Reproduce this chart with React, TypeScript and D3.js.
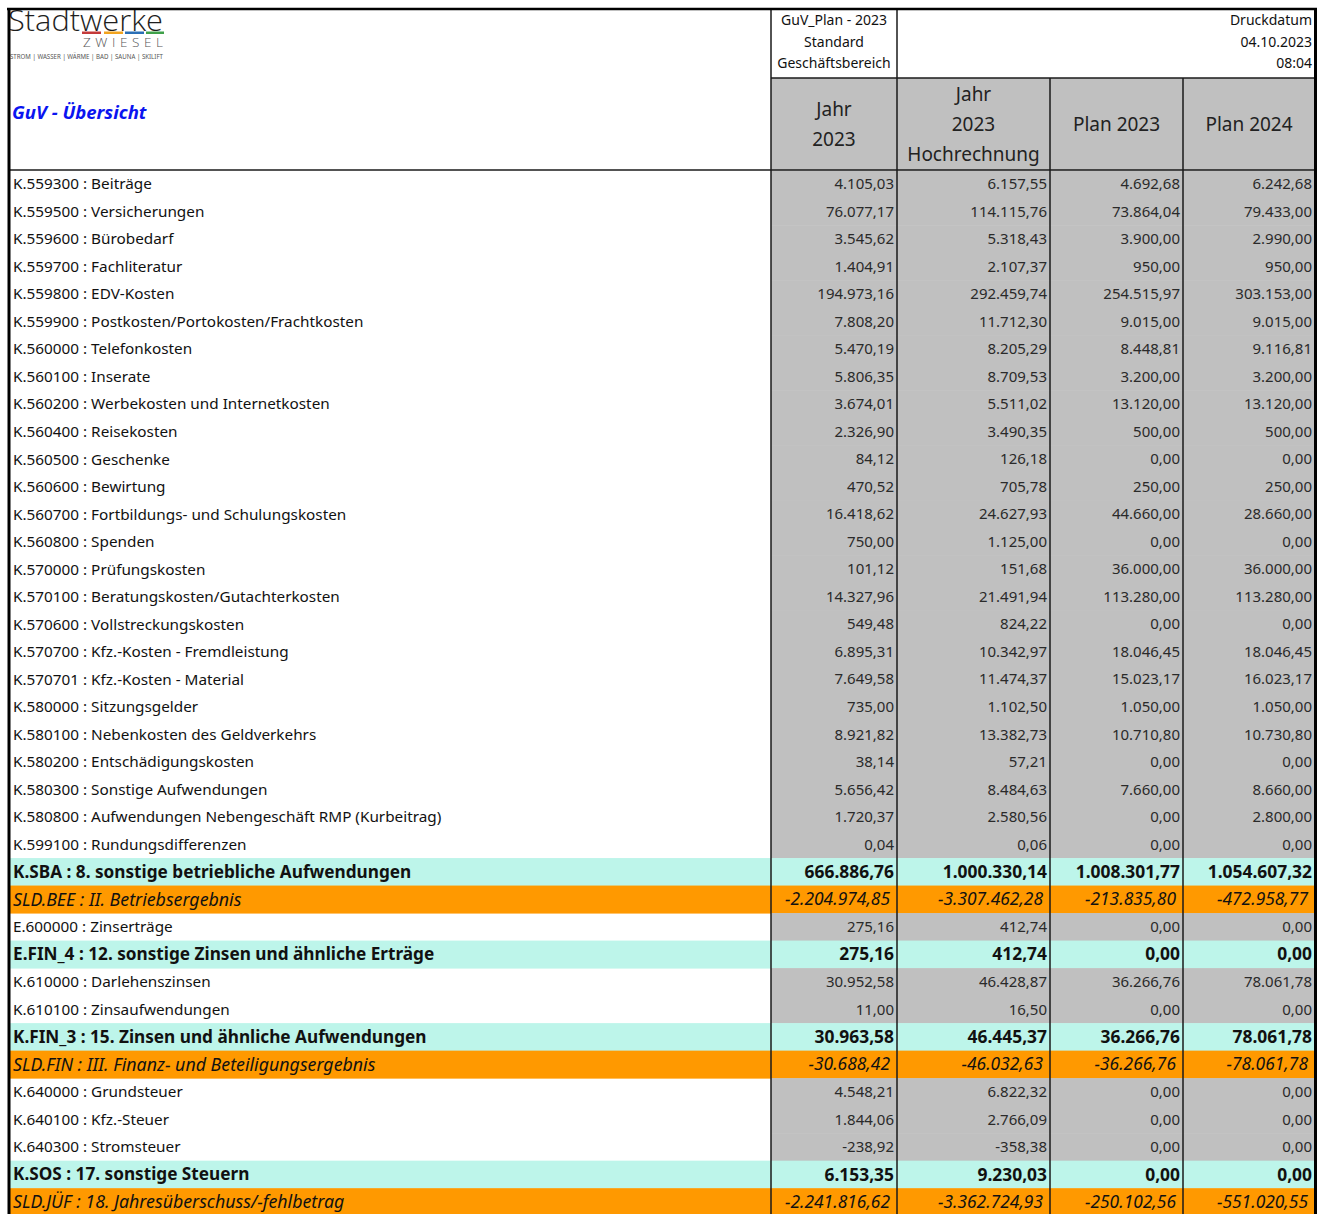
import React from "react";
import * as d3 from "d3";

const columnHeaders: string[][] = [["Jahr", "2023"], ["Jahr", "2023", "Hochrechnung"], ["Plan 2023"], ["Plan 2024"]];
const topInfo = ["GuV_Plan - 2023", "Standard", "Geschäftsbereich"];
const printInfo = ["Druckdatum", "04.10.2023", "08:04"];

const labels = [
  "K.559300 : Beiträge",
  "K.559500 : Versicherungen",
  "K.559600 : Bürobedarf",
  "K.559700 : Fachliteratur",
  "K.559800 : EDV-Kosten",
  "K.559900 : Postkosten/Portokosten/Frachtkosten",
  "K.560000 : Telefonkosten",
  "K.560100 : Inserate",
  "K.560200 : Werbekosten und Internetkosten",
  "K.560400 : Reisekosten",
  "K.560500 : Geschenke",
  "K.560600 : Bewirtung",
  "K.560700 : Fortbildungs- und Schulungskosten",
  "K.560800 : Spenden",
  "K.570000 : Prüfungskosten",
  "K.570100 : Beratungskosten/Gutachterkosten",
  "K.570600 : Vollstreckungskosten",
  "K.570700 : Kfz.-Kosten - Fremdleistung",
  "K.570701 : Kfz.-Kosten - Material",
  "K.580000 : Sitzungsgelder",
  "K.580100 : Nebenkosten des Geldverkehrs",
  "K.580200 : Entschädigungskosten",
  "K.580300 : Sonstige Aufwendungen",
  "K.580800 : Aufwendungen Nebengeschäft RMP (Kurbeitrag)",
  "K.599100 : Rundungsdifferenzen",
  "K.SBA : 8. sonstige betriebliche Aufwendungen",
  "SLD.BEE : II. Betriebsergebnis",
  "E.600000 : Zinserträge",
  "E.FIN_4 : 12. sonstige Zinsen und ähnliche Erträge",
  "K.610000 : Darlehenszinsen",
  "K.610100 : Zinsaufwendungen",
  "K.FIN_3 : 15. Zinsen und ähnliche Aufwendungen",
  "SLD.FIN : III. Finanz- und Beteiligungsergebnis",
  "K.640000 : Grundsteuer",
  "K.640100 : Kfz.-Steuer",
  "K.640300 : Stromsteuer",
  "K.SOS : 17. sonstige Steuern",
  "SLD.JÜF : 18. Jahresüberschuss/-fehlbetrag",
];

// n = normal, s = sum (cyan, bold), r = result (orange, italic)
const rowTypes = "nnnnnnnnnnnnnnnnnnnnnnnnnsrnsnnsrnnnsr".split("");

const jahr2023 = [4105.03, 76077.17, 3545.62, 1404.91, 194973.16, 7808.2, 5470.19, 5806.35, 3674.01, 2326.9, 84.12, 470.52, 16418.62, 750, 101.12, 14327.96, 549.48, 6895.31, 7649.58, 735, 8921.82, 38.14, 5656.42, 1720.37, 0.04, 666886.76, -2204974.85, 275.16, 275.16, 30952.58, 11, 30963.58, -30688.42, 4548.21, 1844.06, -238.92, 6153.35, -2241816.62];
const hochrechnung2023 = [6157.55, 114115.76, 5318.43, 2107.37, 292459.74, 11712.3, 8205.29, 8709.53, 5511.02, 3490.35, 126.18, 705.78, 24627.93, 1125, 151.68, 21491.94, 824.22, 10342.97, 11474.37, 1102.5, 13382.73, 57.21, 8484.63, 2580.56, 0.06, 1000330.14, -3307462.28, 412.74, 412.74, 46428.87, 16.5, 46445.37, -46032.63, 6822.32, 2766.09, -358.38, 9230.03, -3362724.93];
const plan2023 = [4692.68, 73864.04, 3900, 950, 254515.97, 9015, 8448.81, 3200, 13120, 500, 0, 250, 44660, 0, 36000, 113280, 0, 18046.45, 15023.17, 1050, 10710.8, 0, 7660, 0, 0, 1008301.77, -213835.8, 0, 0, 36266.76, 0, 36266.76, -36266.76, 0, 0, 0, 0, -250102.56];
const plan2024 = [6242.68, 79433, 2990, 950, 303153, 9015, 9116.81, 3200, 13120, 500, 0, 250, 28660, 0, 36000, 113280, 0, 18046.45, 16023.17, 1050, 10730.8, 0, 8660, 2800, 0, 1054607.32, -472958.77, 0, 0, 78061.78, 0, 78061.78, -78061.78, 0, 0, 0, 0, -551020.55];

const series = [jahr2023, hochrechnung2023, plan2023, plan2024];

const fmt = d3
  .formatLocale({ decimal: ",", thousands: ".", grouping: [3], currency: ["", "€"], minus: "-" })
  .format(",.2f");

const FONT = "'Noto Sans', 'Open Sans', sans-serif";

export default function App() {
  const W = 1327;
  const H = 1214;
  const left = 8.5;
  const right = 1315;
  const colEdges = [771, 897, 1050, 1183, right];
  const headerTop = 78;
  const headerBottom = 170;

  const y = d3
    .scaleBand<number>()
    .domain(d3.range(labels.length))
    .range([170.3, 170.3 + labels.length * 27.51]);
  const rh = y.bandwidth();

  const fills: Record<string, string> = { s: "#bdf5ea", r: "#ff9900" };
  const sizes: Record<string, number> = { n: 15, s: 17.4, r: 17.4 };
  const labelSizes: Record<string, number> = { n: 15.3, s: 17.2, r: 17.8 };

  return (
    <svg width={W} height={H} style={{ position: "absolute", left: 0, top: 0, background: "#fff" }} fontFamily={FONT}>
      <rect x={0} y={0} width={W} height={H} fill="#fff" />
      {/* header grey row */}
      <rect x={colEdges[0]} y={headerTop} width={right - colEdges[0]} height={headerBottom - headerTop} fill="#c0c0c0" />
      {/* row backgrounds */}
      {labels.map((_, i) => {
        const t = rowTypes[i];
        if (t === "n")
          return <rect key={i} x={colEdges[0]} y={y(i)!} width={right - colEdges[0]} height={rh + 0.5} fill="#c0c0c0" />;
        return <rect key={i} x={left} y={y(i)!} width={right - left} height={rh + 0.5} fill={fills[t]} />;
      })}

      {/* logo */}
      <text x={8} y={31} fontSize={29} fill="#1e1e1e" textLength={155} lengthAdjust="spacingAndGlyphs" fontFamily="'Open Sans', sans-serif" fontWeight={300}>
        Stadtwerke
      </text>
      <rect x={82} y={31.5} width={19} height={2.5} fill="#c43a3a" />
      <rect x={104} y={31.5} width={19} height={2.5} fill="#f2a41f" />
      <rect x={125} y={31.5} width={19} height={2.5} fill="#2b6fb6" />
      <rect x={146} y={31.5} width={18} height={2.5} fill="#3fa14a" />
      <text x={83} y={47} fontSize={13.5} fill="#555" textLength={80} lengthAdjust="spacing" fontFamily="'Open Sans', sans-serif" fontWeight={300}>
        ZWIESEL
      </text>
      <text x={10} y={58.5} fontSize={6.5} fill="#555" textLength={153} lengthAdjust="spacingAndGlyphs">
        STROM | WASSER | WÄRME | BAD | SAUNA | SKILIFT
      </text>

      {/* title */}
      <text x={12} y={118.5} fontSize={18.5} fontWeight={700} fontStyle="italic" fill="#0a14f0">
        GuV - Übersicht
      </text>

      {/* top info */}
      {topInfo.map((t, i) => (
        <text key={t} x={(colEdges[0] + colEdges[1]) / 2} y={25 + i * 21.5} fontSize={14} textAnchor="middle" fill="#111">
          {t}
        </text>
      ))}
      {printInfo.map((t, i) => (
        <text key={t} x={1312} y={25 + i * 21.5} fontSize={14} textAnchor="end" fill="#111">
          {t}
        </text>
      ))}

      {/* column headers */}
      {columnHeaders.map((lines, c) => {
        const cx = (colEdges[c] + colEdges[c + 1]) / 2;
        const mid = (headerTop + headerBottom) / 2;
        const lh = 30;
        const y0 = mid - ((lines.length - 1) * lh) / 2;
        return lines.map((l, k) => (
          <text key={c + "-" + k} x={cx} y={y0 + k * lh} dy="0.35em" fontSize={19} textAnchor="middle" fill="#222">
            {l}
          </text>
        ));
      })}

      {/* rows */}
      {labels.map((lab, i) => {
        const t = rowTypes[i];
        const cy = y(i)! + rh / 2;
        const weight = t === "s" ? 700 : 400;
        const style = t === "r" ? "italic" : "normal";
        return (
          <g key={lab}>
            <text x={13} y={cy} dy="0.35em" fontSize={labelSizes[t]} fontWeight={weight} fontStyle={style} fill="#111">
              {lab}
            </text>
            {series.map((s, c) => (
              <text
                key={c}
                x={colEdges[c + 1] - (t === "r" ? 7 : 3)}
                y={cy}
                dy="0.35em"
                fontSize={sizes[t]}
                fontWeight={weight}
                fontStyle={style}
                textAnchor="end"
                fill={t === "n" ? "#2a2a2a" : "#111"}
              >
                {fmt(s[i])}
              </text>
            ))}
          </g>
        );
      })}

      {/* grid lines */}
      <line x1={colEdges[0]} x2={right} y1={headerTop} y2={headerTop} stroke="#1a1a1a" strokeWidth={1.5} />
      <line x1={left} x2={right} y1={headerBottom} y2={headerBottom} stroke="#1a1a1a" strokeWidth={1.5} />
      {colEdges.slice(0, 4).map((x, i) => (
        <line key={x} x1={x} x2={x} y1={i < 2 ? 8 : headerTop} y2={H} stroke="#1a1a1a" strokeWidth={1.5} />
      ))}
      {/* outer border */}
      <line x1={7} x2={1317} y1={9} y2={9} stroke="#000" strokeWidth={2.5} />
      <line x1={9} x2={9} y1={8} y2={H} stroke="#000" strokeWidth={3} />
      <line x1={1315.5} x2={1315.5} y1={8} y2={H} stroke="#000" strokeWidth={3} />
    </svg>
  );
}
